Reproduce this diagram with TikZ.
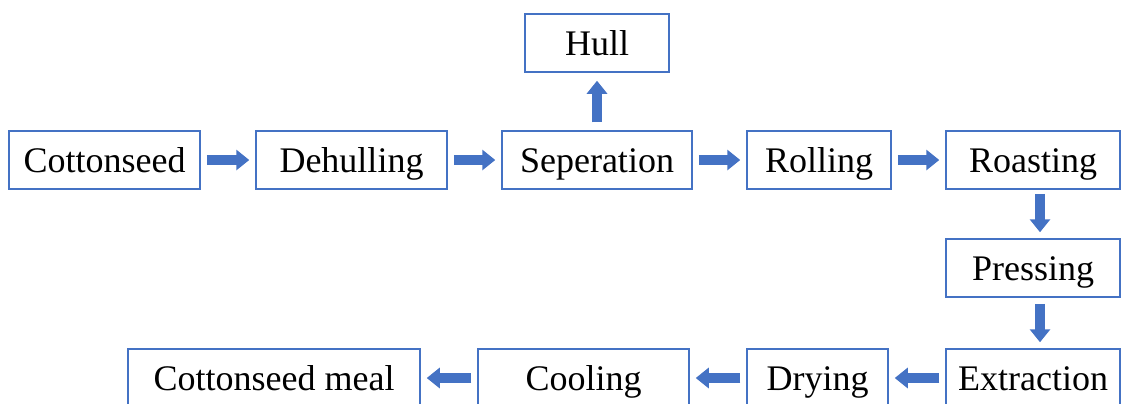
\documentclass[tikz,border=0pt]{standalone}
\usepackage{fontspec}
\setmainfont{Liberation Serif}
\usetikzlibrary{arrows.meta}
\definecolor{flowblue}{HTML}{4472C4}

\begin{document}
\begin{tikzpicture}[x=0.5pt,y=-0.5pt,
                    flow/.style={draw=flowblue,line width=5pt,
                      -{Triangle[width=10pt,length=6.5pt]},
                      shorten >=3pt,shorten <=3pt}]
  \tikzset{stage/.style={draw=flowblue,line width=0.75pt,inner sep=0pt,
      minimum height=29pt,text height=16pt,text depth=4pt,
      font=\fontsize{18}{21}\selectfont}}

  \useasboundingbox (0,0) rectangle (1122,403);

  % top row
  \node[stage,minimum width=95.5pt] (seed)   at (104.5,160) {Cottonseed};
  \node[stage,minimum width=95.5pt] (dehull) at (351.5,160) {Dehulling};
  \node[stage,minimum width=95pt]   (sep)    at (597,160)   {Seperation};
  \node[stage,minimum width=72pt]   (hull)   at (597,43)    {Hull};
  \node[stage,minimum width=72pt]   (roll)   at (819,160)   {Rolling};
  \node[stage,minimum width=87pt]   (roast)  at (1033,160)  {Roasting};

  % right column and bottom row
  \node[stage,minimum width=87pt]   (press)  at (1033,268)  {Pressing};
  \node[stage,minimum width=87pt]   (extr)   at (1033,378)  {Extraction};
  \node[stage,minimum width=70.5pt] (dry)    at (817.5,378) {Drying};
  \node[stage,minimum width=105.5pt] (cool)  at (583.5,378) {Cooling};
  \node[stage,minimum width=146pt]  (meal)   at (274,378)   {Cottonseed meal};

  \path (seed) edge [flow] (dehull)
        (dehull) edge [flow] (sep)
        (sep) edge [flow,shorten <=4pt,shorten >=4pt] (hull)
        (sep) edge [flow] (roll)
        (roll) edge [flow] (roast)
        ([xshift=3.5pt]roast.south) edge [flow,shorten <=2pt] ([xshift=3.5pt]press.north)
        ([xshift=3.5pt]press.south) edge [flow] ([xshift=3.5pt]extr.north)
        (extr) edge [flow] (dry)
        (dry) edge [flow] (cool)
        (cool) edge [flow] (meal);

\end{tikzpicture}
\end{document}
